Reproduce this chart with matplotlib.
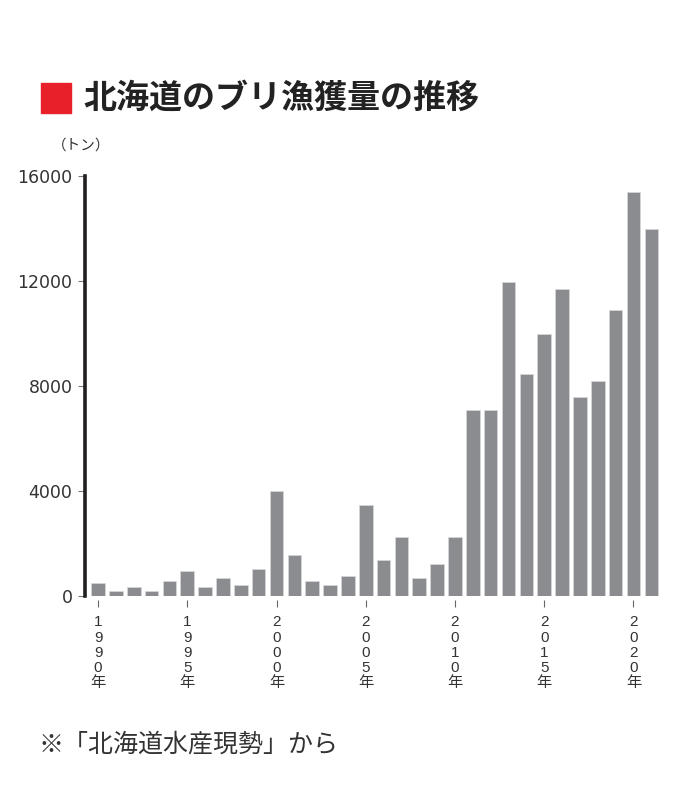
import matplotlib
matplotlib.use("Agg")
import matplotlib.pyplot as plt
from matplotlib.patches import Rectangle

plt.rcParams['font.family'] = ['Liberation Sans', 'Noto Sans CJK JP', 'DejaVu Sans']

years = list(range(1990, 2022))
catch = [500, 180, 330, 180, 560, 950, 330, 675, 430, 1040,
         4000, 1550, 560, 430, 775, 3450, 1390, 2250, 675, 1210,
         2230, 7100, 7100, 11950, 8450, 10000, 11700, 7600, 8200, 10900,
         15400, 14000]
yticks = [0, 4000, 8000, 12000, 16000]
xticks = [1990, 1995, 2000, 2005, 2010, 2015, 2020]
title = "北海道のブリ漁獲量の推移"
unit = "（トン）"
note = "※「北海道水産現勢」から"

fig = plt.figure(figsize=(7, 8.08), dpi=100)
ax = fig.add_axes([85/700, 1-596/808, (662-85)/700, (596-176)/808])

ax.bar(years, catch, width=0.76, color='#8b8c90', edgecolor='#d8d8da', linewidth=0.5)
ax.set_xlim(1989.27, 2021.6)
ax.set_ylim(0, 16000)

for s in ['top', 'right']:
    ax.spines[s].set_visible(False)
ax.spines['bottom'].set_visible(False)
ax.spines['bottom'].set_position(('outward', 3))
ax.spines['left'].set_linewidth(2.6)
ax.spines['left'].set_color('#231f20')

ax.set_yticks(yticks)
ax.set_yticklabels([str(v) for v in yticks], fontsize=12.5, color='#333333',
                   family=['DejaVu Sans'])
ax.tick_params(axis='y', length=5, width=0.8, color='#777777', pad=4)

ax.set_xticks(xticks)
ax.set_xticklabels(['\n'.join(list(str(y)) + ['年']) for y in xticks],
                   fontsize=11, color='#333333', linespacing=1.1,
                   family=['Liberation Sans', 'Noto Sans CJK JP'])
ax.tick_params(axis='x', length=5, width=0.8, color='#666666', pad=6)

fig.patches.append(Rectangle((41/700, 1-113/808), 30/700, 30/808,
                             transform=fig.transFigure, color='#e8202a'))
fig.text(83/700, 1-98/808, title, fontsize=23.8, fontweight='bold',
         family=['Noto Sans CJK JP'], color='#222222', va='center', ha='left')
fig.text(52/700, 1-146/808, unit, fontsize=10.5, family=['Noto Sans CJK JP'],
         color='#333333', va='center', ha='left')
fig.text(39/700, 1-745/808, note, fontsize=18, family=['Noto Sans CJK JP'],
         color='#333333', va='center', ha='left')

fig.savefig("out.png", dpi=100, facecolor='white')
